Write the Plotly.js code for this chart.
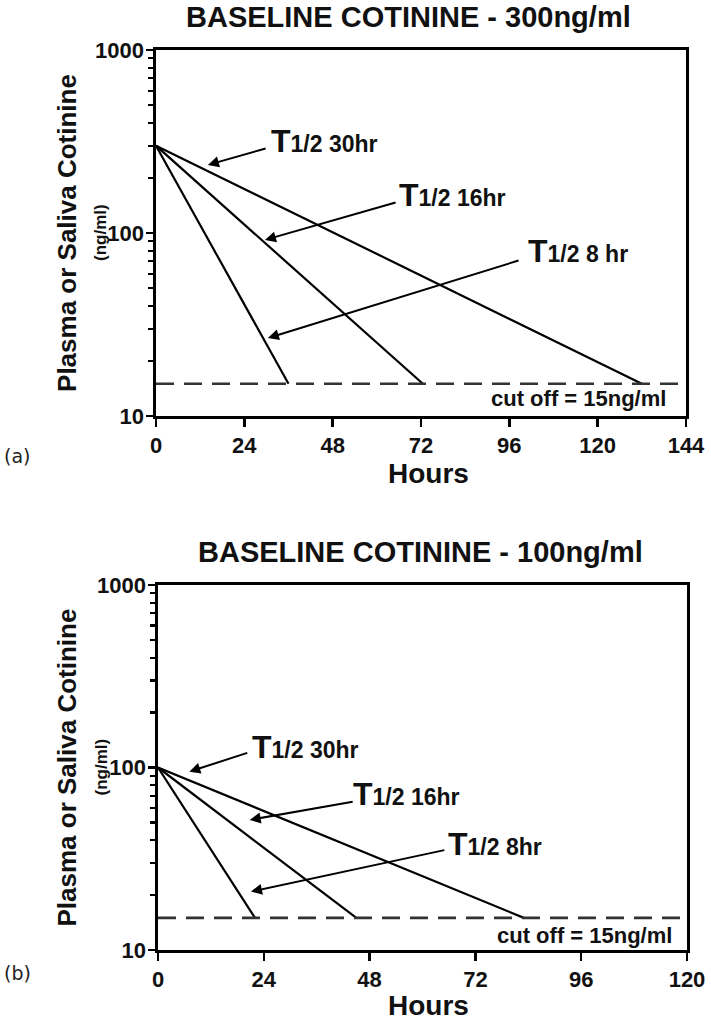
<!DOCTYPE html>
<html>
<head>
<meta charset="utf-8">
<script src="https://cdn.plot.ly/plotly-3.0.1.min.js"></script>
<style>html,body{margin:0;padding:0;background:#fff;}#chart{width:711px;height:1024px;}</style>
</head>
<body>
<div id="chart"></div>
<script>
// ---- data ----
const halfLifeLabelsTop = ['8 hr', '16hr', '30hr'];
const halfLifeLabelsBottom = ['8hr', '16hr', '30hr'];
const topStartConc = 300;          // ng/ml at hour 0
const topEndHours = [36, 72.5, 132]; // hours where each line reaches the cut off
const bottomStartConc = 100;
const bottomEndHours = [22, 45, 83];
const cutoffConc = 15;
const xTicksTop = [0, 24, 48, 72, 96, 120, 144];
const xTicksBottom = [0, 24, 48, 72, 96, 120];
const yTicks = [10, 100, 1000];
const yMinorTicks = [20, 30, 40, 50, 60, 70, 80, 90, 200, 300, 400, 500, 600, 700, 800, 900];

const FONT = 'Liberation Sans, Arial, Helvetica, sans-serif';
const traces = [];

function addPanel(startConc, endHours, xMax, xa, ya, yMajor) {
  endHours.forEach(function (h) {
    traces.push({
      type: 'scatter', mode: 'lines', x: [0, h], y: [startConc, cutoffConc],
      xaxis: xa, yaxis: ya, line: {color: '#000', width: 2.2}, hoverinfo: 'skip', showlegend: false
    });
  });
  traces.push({
    type: 'scatter', mode: 'lines', x: [0, xMax], y: [cutoffConc, cutoffConc],
    xaxis: xa, yaxis: ya, line: {color: '#333', width: 2.6, dash: '18px,10px'}, hoverinfo: 'skip', showlegend: false
  });
  // invisible helper trace so the overlay axis (long major ticks) is drawn
  traces.push({
    type: 'scatter', mode: 'markers', x: [0], y: [startConc], xaxis: xa, yaxis: yMajor,
    marker: {opacity: 0, size: 1}, hoverinfo: 'skip', showlegend: false
  });
}
addPanel(topStartConc, topEndHours, xTicksTop[xTicksTop.length - 1], 'x', 'y', 'y3');
addPanel(bottomStartConc, bottomEndHours, xTicksBottom[xTicksBottom.length - 1], 'x2', 'y2', 'y4');

function xAxis(ticks, domain, anchor) {
  return {
    domain: domain, anchor: anchor, range: [ticks[0], ticks[ticks.length - 1]],
    tickmode: 'array', tickvals: ticks, ticktext: ticks.map(String),
    ticks: 'outside', ticklen: 8, tickwidth: 2.4, tickcolor: '#000',
    showline: true, linecolor: '#000', linewidth: 2.6, mirror: true,
    showgrid: false, zeroline: false,
    tickfont: {family: FONT, size: 22, color: '#111', weight: 'bold'}
  };
}
// main y axis: all ticks (major + minor) short; labels only on majors
function yAxis(domain, anchor) {
  const vals = yTicks.concat(yMinorTicks);
  const txt = yTicks.map(String).concat(yMinorTicks.map(function () { return ''; }));
  return {
    domain: domain, anchor: anchor, type: 'log', range: [1, 3],
    tickmode: 'array', tickvals: vals, ticktext: txt,
    ticks: 'outside', ticklen: 5, tickwidth: 2.2, tickcolor: '#000',
    showline: true, linecolor: '#000', linewidth: 2.6, mirror: true,
    showgrid: false, zeroline: false,
    tickfont: {family: FONT, size: 22, color: '#111', weight: 'bold'}
  };
}
// overlay axis: longer major ticks only
function yMajorAxis(over, anchor) {
  return {
    overlaying: over, anchor: anchor, side: 'left', type: 'log', range: [1, 3],
    tickmode: 'array', tickvals: yTicks, ticktext: yTicks.map(function () { return ''; }),
    showticklabels: false,
    ticks: 'outside', ticklen: 9, tickwidth: 2.4, tickcolor: '#000',
    showline: false, showgrid: false, zeroline: false
  };
}

const bold = function (size) { return {family: FONT, size: size, color: '#111', weight: 'bold'}; };
const ann = [];

// titles
ann.push({xref: 'paper', yref: 'paper', x: 0.575, y: 0.983, text: 'BASELINE COTININE - 300ng/ml', showarrow: false, font: bold(29), xanchor: 'center', yanchor: 'middle'});
ann.push({xref: 'paper', yref: 'paper', x: 0.592, y: 0.461, text: 'BASELINE COTININE - 100ng/ml', showarrow: false, font: bold(29), xanchor: 'center', yanchor: 'middle'});
// y titles
[[0.7725], [0.2505]].forEach(function (p) {
  ann.push({xref: 'paper', yref: 'paper', x: 67 / 711, y: p[0], text: 'Plasma or Saliva Cotinine', textangle: -90, showarrow: false, font: bold(26), xanchor: 'center', yanchor: 'middle'});
  ann.push({xref: 'paper', yref: 'paper', x: 101 / 711, y: p[0], text: '(ng/ml)', textangle: -90, showarrow: false, font: bold(17), xanchor: 'center', yanchor: 'middle'});
});
// x titles
ann.push({xref: 'paper', yref: 'paper', x: 429 / 711, y: 1 - 473 / 1024, text: 'Hours', showarrow: false, font: bold(28), xanchor: 'center', yanchor: 'middle'});
ann.push({xref: 'paper', yref: 'paper', x: 429 / 711, y: 1 - 1005 / 1024, text: 'Hours', showarrow: false, font: bold(28), xanchor: 'center', yanchor: 'middle'});
// panel letters
ann.push({xref: 'paper', yref: 'paper', x: 0.003, y: 1 - 456 / 1024, text: '(a)', showarrow: false, font: {family: 'DejaVu Sans, sans-serif', size: 19, color: '#222'}, xanchor: 'left', yanchor: 'middle'});
ann.push({xref: 'paper', yref: 'paper', x: 0.003, y: 1 - 973 / 1024, text: '(b)', showarrow: false, font: {family: 'DejaVu Sans, sans-serif', size: 19, color: '#222'}, xanchor: 'left', yanchor: 'middle'});
// cut off labels
ann.push({xref: 'x', yref: 'y', x: 139, y: 1.093, text: 'cut off = ' + cutoffConc + 'ng/ml', showarrow: false, font: bold(22), xanchor: 'right', yanchor: 'middle'});
ann.push({xref: 'x2', yref: 'y2', x: 117, y: 1.082, text: 'cut off = ' + cutoffConc + 'ng/ml', showarrow: false, font: bold(22), xanchor: 'right', yanchor: 'middle'});

// half-life arrows and labels (positions in hours / log10 concentration)
const topArrows = [[30.4, 1.426, 98.9, 1.852], [29.6, 1.962, 65.5, 2.169], [14.1, 2.372, 30.2, 2.464]];
const topLabelPos = [[100.8, 1.902], [65.7, 2.210], [31.0, 2.503]];
const bottomArrows = [[21.1, 1.32, 65.3, 1.549], [20.8, 1.713, 44.5, 1.814], [7.1, 1.977, 20.6, 2.083]];
const bottomLabelPos = [[65.6, 1.581], [44.0, 1.855], [21.1, 2.110]];

function addLabels(arrows, pos, labels, xr, yr) {
  arrows.forEach(function (a, i) {
    ann.push({xref: xr, yref: yr, axref: xr, ayref: yr, x: a[0], y: a[1], ax: a[2], ay: a[3], text: '',
      showarrow: true, arrowhead: 2, arrowsize: 1.1, arrowwidth: 2, arrowcolor: '#000', standoff: 0, startstandoff: 0});
    ann.push({xref: xr, yref: yr, x: pos[i][0], y: pos[i][1], showarrow: false, xanchor: 'left', yanchor: 'middle', borderpad: 0,
      text: '<span style="font-size:32px">T</span>1/2 ' + labels[i], font: bold(23)});
  });
}
addLabels(topArrows, topLabelPos, halfLifeLabelsTop, 'x', 'y');
addLabels(bottomArrows, bottomLabelPos, halfLifeLabelsBottom, 'x2', 'y2');

const layout = {
  width: 711, height: 1024, margin: {l: 0, r: 0, t: 0, b: 0},
  paper_bgcolor: '#fff', plot_bgcolor: '#fff', showlegend: false,
  font: {family: FONT, color: '#111'},
  xaxis: xAxis(xTicksTop, [156 / 711, 686 / 711], 'y'),
  yaxis: yAxis([1 - 416 / 1024, 1 - 50 / 1024], 'x'),
  xaxis2: xAxis(xTicksBottom, [158 / 711, 687 / 711], 'y2'),
  yaxis2: yAxis([1 - 950 / 1024, 1 - 585 / 1024], 'x2'),
  yaxis3: yMajorAxis('y', 'x'),
  yaxis4: yMajorAxis('y2', 'x2'),
  annotations: ann
};
Plotly.newPlot('chart', traces, layout, {staticPlot: true, displayModeBar: false});
</script>
</body>
</html>
